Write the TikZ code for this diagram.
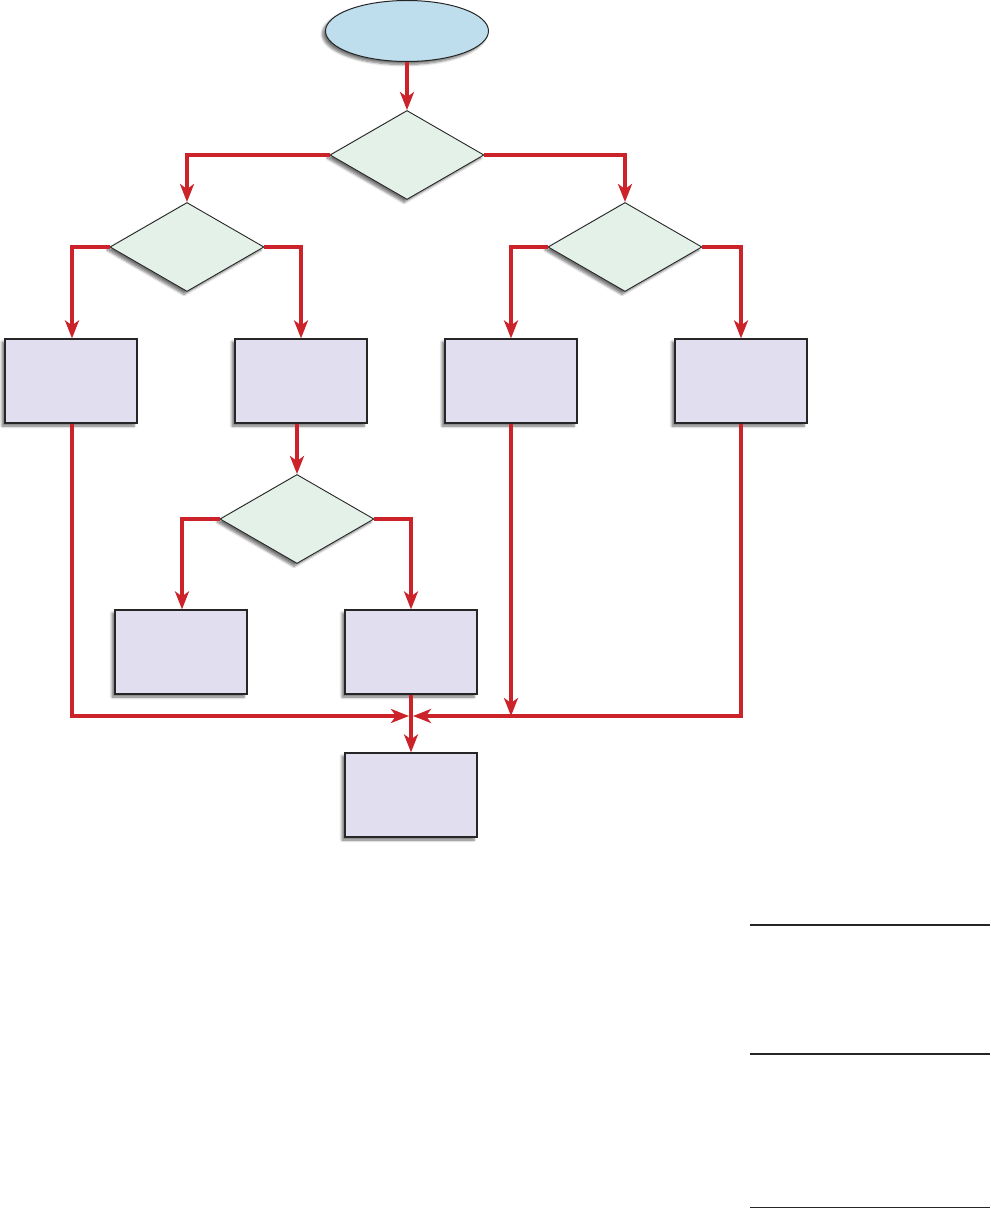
\documentclass[tikz,border=0pt]{standalone}
\usetikzlibrary{shapes.geometric,arrows.meta,shadows.blur}
\definecolor{linered}{RGB}{204,35,42}
\definecolor{ellfill}{RGB}{190,222,238}
\definecolor{diafill}{RGB}{228,241,232}
\definecolor{boxfill}{RGB}{224,222,239}
\tikzset{
  myshadow/.style={blur shadow={shadow xshift=-3pt,shadow yshift=-3pt,shadow blur radius=2.5pt,shadow blur steps=6,shadow opacity=55}},
  startnode/.style={ellipse,draw=black!85,line width=1pt,fill=ellfill,minimum width=163pt,minimum height=61pt,inner sep=0pt,myshadow},
  decision/.style={diamond,draw=black!85,line width=0.9pt,fill=diafill,minimum width=154pt,minimum height=89pt,inner sep=0pt,myshadow},
  process/.style={rectangle,draw=black!85,line width=1.2pt,fill=boxfill,minimum width=132pt,minimum height=84pt,inner sep=0pt,myshadow},
  redline/.style={draw=linered,line width=3.4pt},
  redarrow/.style={redline,-{Stealth[length=18pt,width=14pt,inset=5pt]}},
  hrule/.style={draw=black!85,line width=1.4pt}
}
\begin{document}
\begin{tikzpicture}[x=1pt,y=-1pt]
\useasboundingbox (0,0) rectangle (990,1209);
\node[startnode] (start) at (407,31) {};
\node[decision] (d1) at (407,155) {};
\node[decision] (d2) at (187,247) {};
\node[decision] (d3) at (625,247) {};
\node[process] (b1) at (71,381) {};
\node[process] (b2) at (301,381) {};
\node[process] (b3) at (511,381) {};
\node[process] (b4) at (741,381) {};
\node[decision] (d4) at (297,519) {};
\node[process] (b5) at (181,652) {};
\node[process] (b6) at (411,652) {};
\node[process] (b7) at (411,795) {};
\coordinate (m) at (411,716);
\coordinate (l2) at (72,0);
\coordinate (r2) at (301,0);
\coordinate (l3) at (511,0);
\coordinate (r3) at (741,0);
\coordinate (l4) at (182,0);
\coordinate (r4) at (411,0);
\draw[redarrow] (start) -- (d1.north);
\draw[redarrow] (d1.west) -| (d2.north);
\draw[redarrow] (d1.east) -| (d3.north);
\draw[redarrow] (d2.west) -| (l2 |- b1.north);
\draw[redarrow] (d2.east) -| (r2 |- b2.north);
\draw[redarrow] (d3.west) -| (l3 |- b3.north);
\draw[redarrow] (d3.east) -| (r3 |- b4.north);
\draw[redarrow] (d4.north |- b2.south) -- (d4.north);
\draw[redarrow] (d4.west) -| (l4 |- b5.north);
\draw[redarrow] (d4.east) -| (r4 |- b6.north);
\draw[redarrow] (b6.south) -- (b7.north);
\draw[redarrow] (l2 |- b1.south) |- ([xshift=-2pt]m);
\draw[redarrow] (r3 |- b4.south) |- ([xshift=2pt]m);
\draw[redarrow] (b3.south) -- (b3.south |- m);
\coordinate (h1) at (750,925);
\coordinate (h2) at (750,1054);
\coordinate (h3) at (750,1207.5);
\draw[hrule] (h1) -- ++(240,0);
\draw[hrule] (h2) -- ++(240,0);
\draw[hrule] (h3) -- ++(240,0);
\end{tikzpicture}
\end{document}
